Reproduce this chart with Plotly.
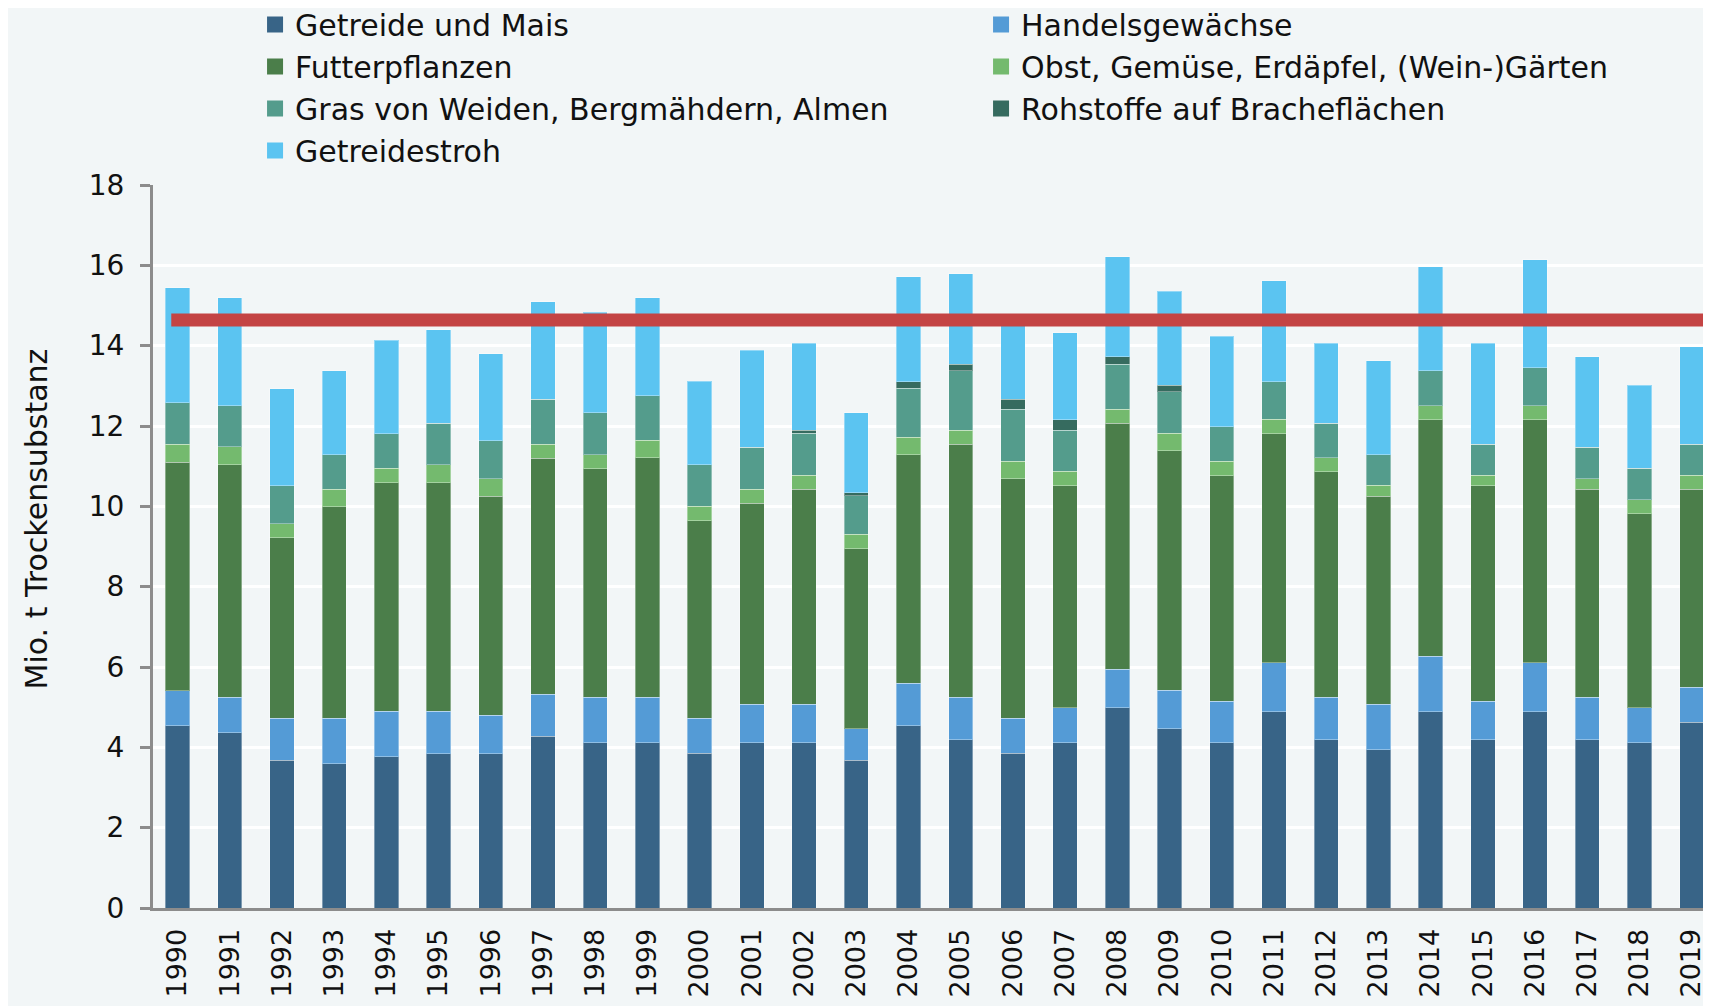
import plotly.graph_objects as go

years = [str(y) for y in range(1990, 2020)]

getreide_mais = [4.54, 4.36, 3.68, 3.59, 3.76, 3.84, 3.84, 4.28, 4.11, 4.11,
                 3.85, 4.11, 4.11, 3.68, 4.54, 4.19, 3.85, 4.11, 4.98, 4.46,
                 4.11, 4.89, 4.19, 3.94, 4.89, 4.19, 4.89, 4.19, 4.11, 4.63]
handelsgewaechse = [0.87, 0.89, 1.04, 1.13, 1.14, 1.06, 0.96, 1.04, 1.14, 1.14,
                    0.87, 0.96, 0.96, 0.78, 1.05, 1.06, 0.87, 0.87, 0.96, 0.96,
                    1.04, 1.21, 1.06, 1.13, 1.38, 0.96, 1.21, 1.06, 0.87, 0.87]
futterpflanzen = [5.69, 5.79, 4.50, 5.27, 5.69, 5.69, 5.45, 5.88, 5.68, 5.96,
                  4.92, 5.01, 5.35, 4.49, 5.69, 6.30, 5.97, 5.53, 6.13, 5.96,
                  5.61, 5.71, 5.61, 5.18, 5.89, 5.36, 6.06, 5.17, 4.84, 4.92]
obst_gemuese = [0.45, 0.44, 0.35, 0.43, 0.36, 0.45, 0.44, 0.35, 0.36, 0.43,
                0.36, 0.35, 0.36, 0.35, 0.44, 0.35, 0.43, 0.36, 0.35, 0.44,
                0.36, 0.36, 0.35, 0.27, 0.35, 0.27, 0.35, 0.27, 0.35, 0.36]
gras = [1.03, 1.02, 0.94, 0.86, 0.86, 1.03, 0.94, 1.12, 1.04, 1.11,
        1.04, 1.04, 1.04, 0.96, 1.22, 1.47, 1.30, 1.03, 1.12, 1.03,
        0.86, 0.93, 0.86, 0.76, 0.86, 0.77, 0.94, 0.78, 0.78, 0.77]
rohstoffe_brache = [0, 0, 0, 0, 0, 0, 0, 0, 0, 0,
                    0, 0, 0.08, 0.08, 0.16, 0.17, 0.25, 0.26, 0.18, 0.17,
                    0, 0, 0, 0, 0, 0, 0, 0, 0, 0]
getreidestroh = [2.86, 2.69, 2.42, 2.09, 2.33, 2.33, 2.17, 2.42, 2.50, 2.44,
                 2.07, 2.41, 2.16, 1.99, 2.61, 2.25, 1.88, 2.16, 2.50, 2.34,
                 2.25, 2.52, 1.99, 2.34, 2.59, 2.51, 2.69, 2.25, 2.07, 2.42]

reference_level = [14.64]

series_names = [
    "Getreide und Mais",
    "Handelsgewächse",
    "Futterpflanzen",
    "Obst, Gemüse, Erdäpfel, (Wein-)Gärten",
    "Gras von Weiden, Bergmähdern, Almen",
    "Rohstoffe auf Bracheflächen",
    "Getreidestroh",
]
series_values = [getreide_mais, handelsgewaechse, futterpflanzen, obst_gemuese,
                 gras, rohstoffe_brache, getreidestroh]
series_colors = ["#386487", "#549BD6", "#4B7E4A", "#74BA6E", "#549C8C", "#366B5F", "#5BC4F1"]

FONT = "DejaVu Sans"
BG = "#F2F6F7"
AXIS = "#8C8C8C"

fig = go.Figure()
for name, vals, col in zip(series_names, series_values, series_colors):
    fig.add_trace(go.Bar(
        x=years, y=vals, name=name, showlegend=False,
        marker=dict(color=col, line=dict(color="rgba(255,255,255,0.35)", width=1)),
    ))
# legend entries with larger square swatches
for name, col in zip(series_names, series_colors):
    fig.add_trace(go.Scatter(
        x=[None], y=[None], mode="markers", name=name,
        marker=dict(symbol="square", size=16, color=col),
    ))

fig.add_shape(type="line", xref="x", yref="y",
              x0=-0.12, x1=30, y0=reference_level[0], y1=reference_level[0],
              line=dict(color="#C44444", width=13), layer="above")

fig.add_annotation(text="Mio. t Trockensubstanz", textangle=-90,
                   xref="paper", yref="paper", x=-0.0748, y=0.538,
                   xanchor="center", yanchor="middle", showarrow=False,
                   font=dict(family=FONT, size=30, color="#111111"))

fig.update_layout(
    width=1703, height=998,
    margin=dict(l=145, r=0, t=177, b=98, pad=0, autoexpand=False),
    barmode="stack", bargap=0.534,
    paper_bgcolor=BG, plot_bgcolor=BG,
    font=dict(family=FONT, color="#111111"),
    xaxis=dict(type="category", range=[-0.47, 29.37], showline=True,
               linecolor=AXIS, linewidth=3, ticks="", tickangle=-90,
               tickfont=dict(size=27), ticklabelstandoff=7,
               showgrid=False, zeroline=False),
    yaxis=dict(range=[0, 18], dtick=2, showgrid=True, gridcolor="white", gridwidth=3,
               showline=True, linecolor=AXIS, linewidth=3, ticks="outside",
               ticklen=10, tickwidth=3, tickcolor=AXIS, tickfont=dict(size=28),
               ticklabelstandoff=10, zeroline=False),
    legend=dict(orientation="h", x=0.0655, y=1.258, xanchor="left", yanchor="top",
                entrywidth=681, font=dict(family=FONT, size=30),
                bgcolor="rgba(0,0,0,0)", itemsizing="trace", traceorder="normal"),
)

fig.write_html("out.html")
